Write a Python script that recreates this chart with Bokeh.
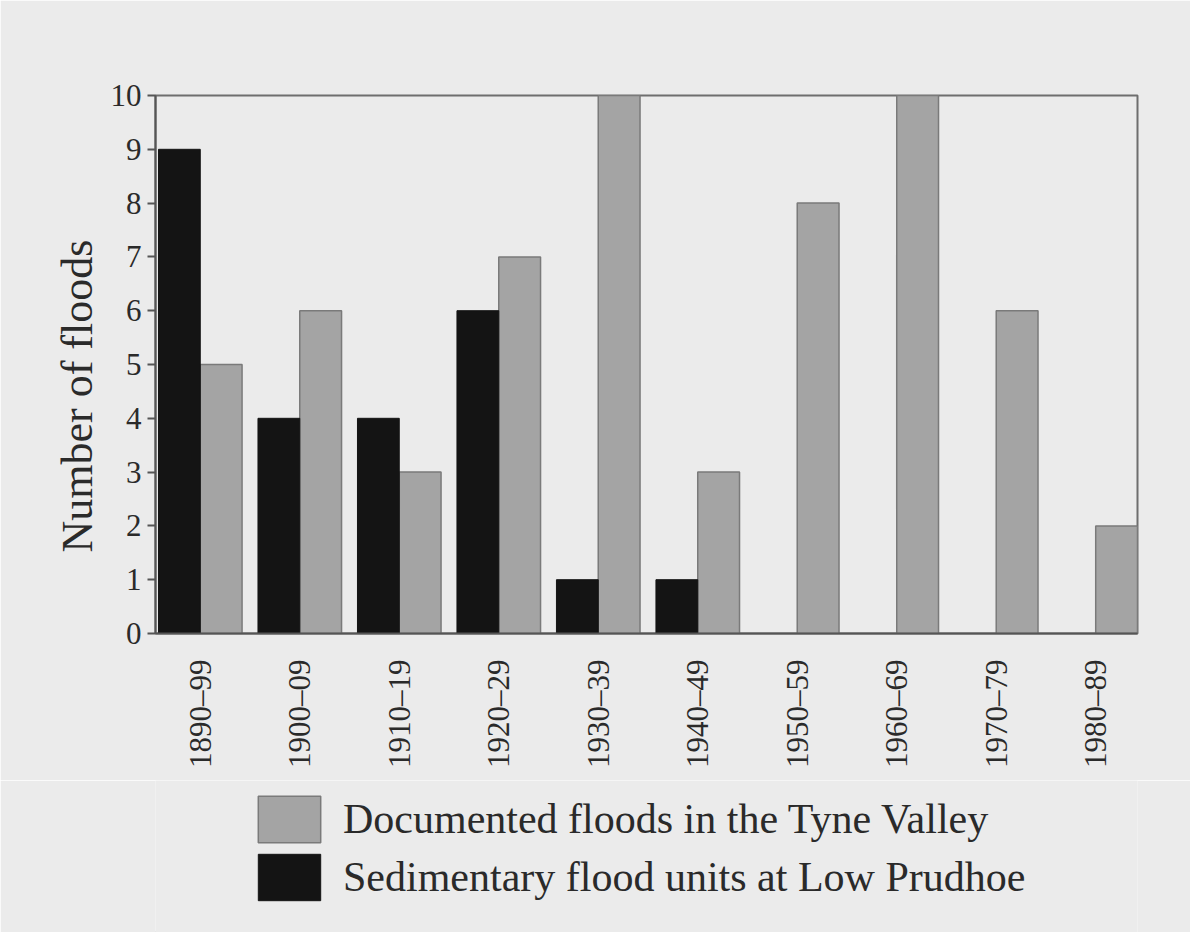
import math
from bokeh.plotting import figure
from bokeh.layouts import column
from bokeh.models import FixedTicker, Legend, LegendItem, ColumnDataSource, Title
from bokeh.embed import file_html
from bokeh.resources import INLINE

decades = ["1890–99", "1900–09", "1910–19", "1920–29", "1930–39",
           "1940–49", "1950–59", "1960–69", "1970–79", "1980–89"]
documented = [5, 6, 3, 7, 10, 3, 8, 10, 6, 2]
sedimentary = [9, 4, 4, 6, 1, 1, 0, 0, 0, 0]
y_ticks = [0, 1, 2, 3, 4, 5, 6, 7, 8, 9, 10]
y_title = "Number of floods"
legend_labels = ["Documented floods in the Tyne Valley",
                 "Sedimentary flood units at Low Prudhoe"]

SERIF = "Liberation Serif"
BG = "#ebebeb"
INK = "#2a2a2a"
GREY_FILL, GREY_LINE = "#a4a4a4", "#7a7a7a"
BLACK = "#141414"
BW = 0.42
W, H_MAIN, H_LEG = 1190, 780, 152
LEFT, RIGHT, TOP = 155, 53, 95

idx = list(range(len(decades)))
doc_src = ColumnDataSource(dict(x=[i + BW / 2 for i in idx], top=documented))
sed_pairs = [(i, v) for i, v in zip(idx, sedimentary) if v > 0]
sed_src = ColumnDataSource(dict(x=[i - BW / 2 for i, _ in sed_pairs],
                                top=[v for _, v in sed_pairs]))

p = figure(width=W, height=H_MAIN, output_backend="svg", toolbar_location=None,
           x_range=(-0.45, 9.42), y_range=(0, 10),
           min_border_left=LEFT, min_border_right=RIGHT, min_border_top=TOP,
           min_border_bottom=H_MAIN - 633)
p.background_fill_color = BG
p.border_fill_color = BG
p.grid.visible = False
p.outline_line_color = "#6e6e6e"
p.outline_line_width = 2

p.vbar(x="x", top="top", bottom=0, width=BW, source=doc_src,
       fill_color=GREY_FILL, line_color=GREY_LINE, line_width=1.5)
p.vbar(x="x", top="top", bottom=0, width=BW, source=sed_src,
       fill_color=BLACK, line_color=BLACK, line_width=1)

# y axis
p.yaxis.ticker = FixedTicker(ticks=y_ticks)
p.yaxis.minor_tick_line_color = None
p.yaxis.major_tick_out = 8
p.yaxis.major_tick_in = 0
p.yaxis.major_tick_line_color = "#555555"
p.yaxis.major_tick_line_width = 2
p.yaxis.axis_line_color = "#555555"
p.yaxis.axis_line_width = 2
p.yaxis.major_label_text_font = SERIF
p.yaxis.major_label_text_font_size = "31px"
p.yaxis.major_label_text_color = INK
p.yaxis.major_label_standoff = 6

p.add_layout(Title(text=y_title, align="left", offset=81, standoff=12,
                   text_font=SERIF, text_font_size="44px", text_font_style="normal",
                   text_color=INK), "left")

# x axis
p.xaxis.ticker = FixedTicker(ticks=idx)
p.xaxis.major_label_overrides = {i: d for i, d in zip(idx, decades)}
p.xaxis.major_label_orientation = math.pi / 2
p.xaxis.major_tick_line_color = None
p.xaxis.minor_tick_line_color = None
p.xaxis.axis_line_color = "#555555"
p.xaxis.axis_line_width = 2
p.xaxis.major_label_text_font = SERIF
p.xaxis.major_label_text_font_size = "31px"
p.xaxis.major_label_text_color = INK
p.xaxis.major_label_standoff = 20

# legend strip (frame aligned with the chart's frame by the column layout)
q = figure(width=W, height=H_LEG, output_backend="svg", toolbar_location=None,
           x_range=(0, 1), y_range=(0, 1), x_axis_location=None, y_axis_location=None,
           min_border_left=LEFT, min_border_right=RIGHT, min_border_top=0, min_border_bottom=0)
q.background_fill_color = BG
q.border_fill_color = BG
q.grid.visible = False
q.outline_line_color = None
# legend proxies: one swatch each, kept far outside the visible ranges
proxy = ColumnDataSource(dict(x=[-100], top=[-100], bottom=[-101]))
lg_doc = q.vbar(x="x", top="top", bottom="bottom", width=0.1, source=proxy,
                fill_color=GREY_FILL, line_color=GREY_LINE, line_width=1.5)
lg_sed = q.vbar(x="x", top="top", bottom="bottom", width=0.1, source=proxy,
                fill_color=BLACK, line_color=BLACK, line_width=1)

legend = Legend(items=[LegendItem(label=legend_labels[0], renderers=[lg_doc]),
                       LegendItem(label=legend_labels[1], renderers=[lg_sed])],
                location=(250 - LEFT, 26), orientation="vertical",
                glyph_width=78, glyph_height=58, spacing=0, padding=0, margin=0,
                label_standoff=15, label_text_font=SERIF, label_text_font_size="42px",
                label_text_color=INK, label_height=58,
                border_line_alpha=0, background_fill_alpha=0)
q.add_layout(legend, "center")

layout = column(p, q, spacing=0)
open("out.html", "w").write(file_html(layout, INLINE))
